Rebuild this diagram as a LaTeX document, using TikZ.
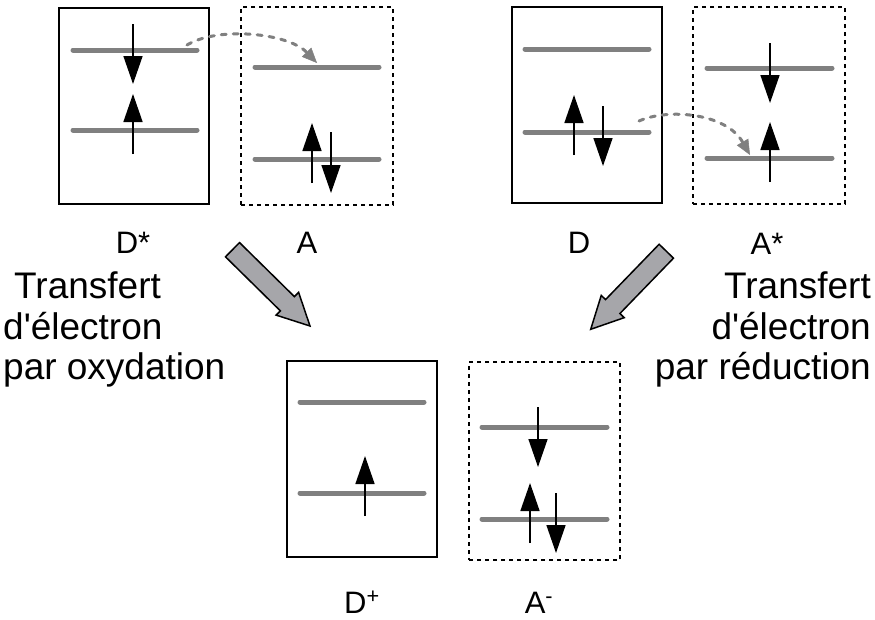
\documentclass[tikz,border=0pt]{standalone}
\usepackage{fontspec}
\setmainfont{Liberation Sans}
\usetikzlibrary{arrows.meta,calc}
\definecolor{levelgray}{RGB}{128,128,128}
\definecolor{bigfill}{RGB}{166,166,170}
\begin{document}
\begin{tikzpicture}[x=1pt,y=-1pt,
  solidbox/.style={draw=black,line width=1.6pt,inner sep=0pt,outer sep=0pt},
  dashbox/.style={draw=black,line width=1.6pt,dash pattern=on 4pt off 4pt,inner sep=0pt,outer sep=0pt},
  level/.style={draw=levelgray,line width=5pt,line cap=round},
  spin/.style={draw=black,line width=1.5pt,-{Triangle[length=28pt,width=19pt]}},
  transfer/.style={draw=levelgray,line width=3pt,dash pattern=on 5pt off 7pt,line cap=round,
     -{Triangle[length=15pt,width=13pt,line width=0.5pt]}},
  bigarrow/.style={draw=black,fill=bigfill,line width=1.5pt,line join=miter},
  lbl/.style={font=\fontsize{31}{36}\selectfont,anchor=base,inner sep=0pt},
  side/.style={font=\fontsize{37}{41}\selectfont,inner sep=0pt}]
\useasboundingbox (0,0) rectangle (875,619);

% boxes
\node[solidbox,minimum width=150pt,minimum height=196pt] (Dstar) at (134,106) {};
\node[dashbox,minimum width=152pt,minimum height=198pt] (A) at (317,106) {};
\node[solidbox,minimum width=150pt,minimum height=196pt] (D) at (587,105) {};
\node[dashbox,minimum width=152pt,minimum height=197pt] (Astar) at (769,105.5) {};
\node[solidbox,minimum width=150pt,minimum height=196pt] (Dplus) at (362,459) {};
\node[dashbox,minimum width=151pt,minimum height=198pt] (Aminus) at (544.5,461) {};

% levels
\draw[level] (73,50) -- (197,50);
\draw[level] (73,130) -- (197,130);
\draw[level] (255,67) -- (379,67);
\draw[level] (255,159) -- (379,159);
\draw[level] (525,49) -- (649,49);
\draw[level] (525,132) -- (649,132);
\draw[level] (707,68) -- (832,68);
\draw[level] (707,158) -- (832,158);
\draw[level] (300,402) -- (424,402);
\draw[level] (300,493) -- (424,493);
\draw[level] (482,427) -- (607,427);
\draw[level] (482,519) -- (607,519);

% spins
\draw[spin] (133,24) -- (133,84);
\draw[spin] (133,154) -- (133,94);
\draw[spin] (312,183) -- (312,123);
\draw[spin] (331,132) -- (331,193);
\draw[spin] (574,155) -- (574,95);
\draw[spin] (603,106) -- (603,166);
\draw[spin] (770,43) -- (770,103);
\draw[spin] (770,182) -- (770,122);
\draw[spin] (365,516) -- (365,456);
\draw[spin] (538,407) -- (538,467);
\draw[spin] (530,543) -- (530,483);
\draw[spin] (556,493) -- (556,553);

% electron transfers
\coordinate (t1a) at (187,45);
\coordinate (t1b) at (317,63);
\coordinate (t2a) at (639,121);
\coordinate (t2b) at (750,155);
\draw[transfer] (t1a) .. controls (218,26) and (288,33) .. (t1b);
\draw[transfer] (t2a) .. controls (668,108) and (726,113) .. (t2b);

% big arrows
\coordinate (la0) at (232.5,249.7);
\coordinate (la1) at (310,326);
\coordinate (lan) at ($(la0)!77pt!(la1)$);
\draw[bigarrow] ($(la0)!10pt!90:(la1)$) -- ($(lan)!10pt!90:(la1)$) -- ($(lan)!16pt!90:(la1)$) -- (la1)
  -- ($(lan)!16pt!-90:(la1)$) -- ($(lan)!10pt!-90:(la1)$) -- ($(la0)!10pt!-90:(la1)$) -- cycle;
\coordinate (ra0) at (666.3,251.2);
\coordinate (ra1) at (590.7,329.3);
\coordinate (ran) at ($(ra0)!77pt!(ra1)$);
\draw[bigarrow] ($(ra0)!10pt!90:(ra1)$) -- ($(ran)!10pt!90:(ra1)$) -- ($(ran)!16pt!90:(ra1)$) -- (ra1)
  -- ($(ran)!16pt!-90:(ra1)$) -- ($(ran)!10pt!-90:(ra1)$) -- ($(ra0)!10pt!-90:(ra1)$) -- cycle;

% labels
\node[lbl] (lDstar) at (133,253) {D*};
\node[lbl] (lA) at (307,253) {A};
\node[lbl] (lD) at (579,253) {D};
\node[lbl] (lAstar) at (767,254) {A*};
\node[lbl] (lDplus) at (362,613) {D\textsuperscript{+}};
\node[lbl] (lAminus) at (539,613) {A\textsuperscript{-}};

% side texts
\node[side,anchor=base west] (s1) at (14,298) {Transfert};
\node[side,anchor=base west] (s2) at (3,339) {d\textquotesingle électron};
\node[side,anchor=base west] (s3) at (3,379) {par oxydation};
\node[side,anchor=base east] (r1) at (871,298) {Transfert};
\node[side,anchor=base east] (r2) at (871,339) {d\textquotesingle électron};
\node[side,anchor=base east] (r3) at (871,379) {par réduction};
\end{tikzpicture}
\end{document}
